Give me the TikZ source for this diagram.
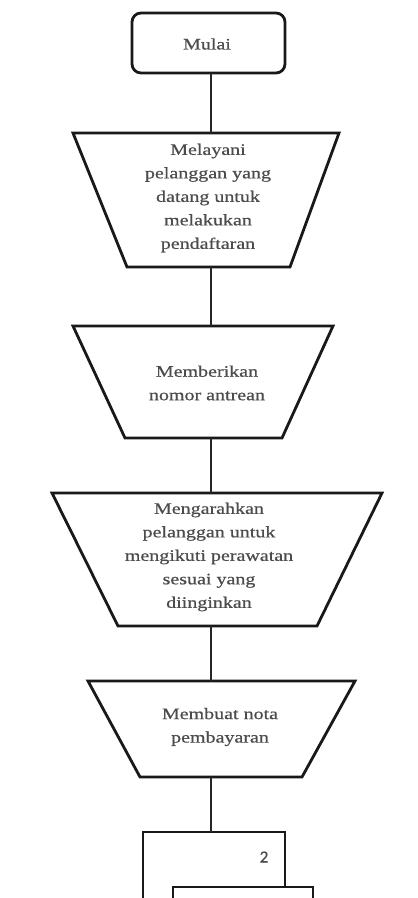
\documentclass[tikz,border=0pt]{standalone}
\usepackage{fontspec}
\setmainfont{Liberation Serif}[FakeStretch=1.25,FakeBold=0.6]
\newfontfamily\numfont{Carlito}[FakeBold=0.6]
\begin{document}
\begin{tikzpicture}[x=1pt,y=-1pt]
\tikzset{
  shapeline/.style={draw=black!90,line width=2.8pt,line join=miter},
  conn/.style={draw=black!85,line width=1.9pt},
  txt/.style={text=black!70,align=center,font=\fontsize{16}{23.5}\selectfont,inner sep=0pt}
}
\useasboundingbox (0,0) rectangle (418,898);
\fill[white] (0,0) rectangle (418,898);
% Mulai
\draw[shapeline,rounded corners=9pt] (132,13) rectangle (285,73);
\node[txt] (mulai) at (207,44) {Mulai};
\coordinate (mulaiB) at (211,73);
% trapezoid 1
\draw[shapeline] (73,133) -- (339,133) -- (290,267) -- (127,267) -- cycle;
\coordinate (t1T) at (211,133);
\coordinate (t1B) at (211,267);
\node[txt] (t1) at (208,198) {Melayani\\pelanggan yang\\datang untuk\\melakukan\\pendaftaran};
% trapezoid 2
\draw[shapeline] (73,326) -- (333,326) -- (282,438) -- (125,438) -- cycle;
\coordinate (t2T) at (211,326);
\coordinate (t2B) at (211,438);
\node[txt] (t2) at (207,383) {Memberikan\\nomor antrean};
% trapezoid 3
\draw[shapeline] (52,493) -- (382,493) -- (317,626) -- (118,626) -- cycle;
\coordinate (t3T) at (211,493);
\coordinate (t3B) at (211,626);
\node[txt] (t3) at (209,557) {Mengarahkan\\pelanggan untuk\\mengikuti perawatan\\sesuai yang\\diinginkan};
% trapezoid 4
\draw[shapeline] (88,681) -- (355,681) -- (302,777) -- (140,777) -- cycle;
\coordinate (t4T) at (211,681);
\coordinate (t4B) at (211,777);
\node[txt] (t4) at (220,727) {Membuat nota\\pembayaran};
% off-page boxes
\draw[shapeline] (143,900) -- (143,832) -- (285,832) -- (285,887);
\coordinate (pT) at (211,832);
\draw[shapeline] (173,900) -- (173,887) -- (313,887) -- (313,900);
\node[txt,font=\numfont\fontsize{17}{18}\selectfont] (two) at (264,857) {2};
% connectors
\draw[conn] (mulaiB) -- (t1T);
\draw[conn] (t1B) -- (t2T);
\draw[conn] (t2B) -- (t3T);
\draw[conn] (t3B) -- (t4T);
\draw[conn] (t4B) -- (pT);
\end{tikzpicture}
\end{document}
